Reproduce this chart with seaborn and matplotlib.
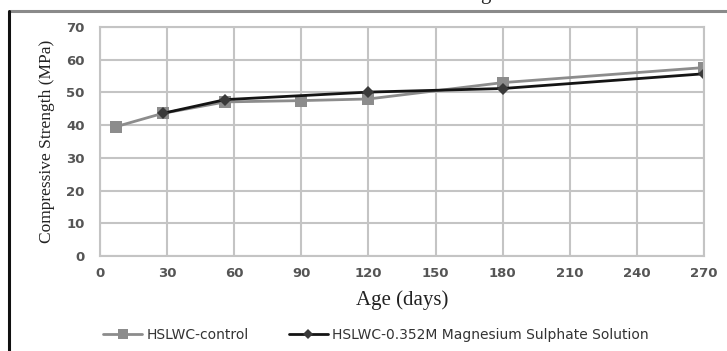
import matplotlib
matplotlib.use("Agg")
import matplotlib.pyplot as plt
import seaborn as sns
from matplotlib.lines import Line2D

# Data
control_days = [7, 28, 56, 90, 120, 180, 270]
control_strength = [39.5, 43.6, 47.1, 47.5, 48.0, 53.0, 57.6]
mgso4_days = [28, 56, 120, 180, 270]
mgso4_strength = [43.6, 47.8, 50.1, 51.2, 55.7]
x_ticks = [0, 30, 60, 90, 120, 150, 180, 210, 240, 270]
y_ticks = [0, 10, 20, 30, 40, 50, 60, 70]
series_names = ["HSLWC-control", "HSLWC-0.352M Magnesium Sulphate Solution"]

sns.set_style("white")
W, H = 727, 351
fig = plt.figure(figsize=(W / 100, H / 100), dpi=100)
ax = fig.add_axes([100 / W, 1 - 256 / H, 604 / W, 229 / H])

sns.lineplot(x=control_days, y=control_strength, ax=ax, color="#8c8c8c", linewidth=2,
             marker="s", markersize=8, markeredgewidth=0, markerfacecolor="#8c8c8c",
             label=series_names[0], legend=False)
sns.lineplot(x=mgso4_days, y=mgso4_strength, ax=ax, color="#141414", linewidth=2,
             marker="D", markersize=6, markeredgewidth=0, markerfacecolor="#3a3a3a",
             label=series_names[1], legend=False)

ax.set_xlim(0, 270)
ax.set_ylim(0, 70)
ax.set_xticks(x_ticks)
ax.set_yticks(y_ticks)
ax.grid(True, color="#c4c4c4", linewidth=1.5)
ax.set_axisbelow(True)
for s in ax.spines.values():
    s.set_color("#c4c4c4")
    s.set_linewidth(1.5)
ax.tick_params(length=0, labelsize=9.5, labelcolor="#555555")
ax.tick_params(axis="y", pad=11)
ax.tick_params(axis="x", pad=8)
for lbl in ax.get_xticklabels() + ax.get_yticklabels():
    lbl.set_fontweight("bold")
    lbl.set_family("DejaVu Sans")

ax.set_xlabel("Age (days)", family="Liberation Serif", fontsize=15, color="#222222", labelpad=7)
ax.set_ylabel("Compressive Strength (MPa)", family="Liberation Serif", fontsize=12.5,
              color="#222222", labelpad=8)

handles = [
    Line2D([], [], color="#8c8c8c", linewidth=2, marker="s", markersize=7, markeredgewidth=0),
    Line2D([], [], color="#141414", linewidth=2, marker="D", markersize=5, markeredgewidth=0,
           markerfacecolor="#3a3a3a"),
]
fig.legend(handles, series_names, loc="center", bbox_to_anchor=(376 / W, 1 - 335 / H), ncol=2,
           frameon=False, prop={"family": "DejaVu Sans", "size": 10}, labelcolor="#333333",
           handlelength=2.8, handletextpad=0.3, columnspacing=2.9)

# outer frame of the original figure
fig.add_artist(Line2D([10 / W, 1], [1 - 11 / H, 1 - 11 / H], color="#8a8a8a", linewidth=2.2))
fig.add_artist(Line2D([9 / W, 9 / W], [0, 1 - 11 / H], color="#111111", linewidth=2.2))
# cut-off title above the frame (only its descender shows, as in the original)
fig.text(485 / W, 1 + 1 / H, "g", family="Liberation Serif", fontsize=15, ha="center",
         va="baseline", color="#222222")

fig.savefig("out.png", dpi=100)
